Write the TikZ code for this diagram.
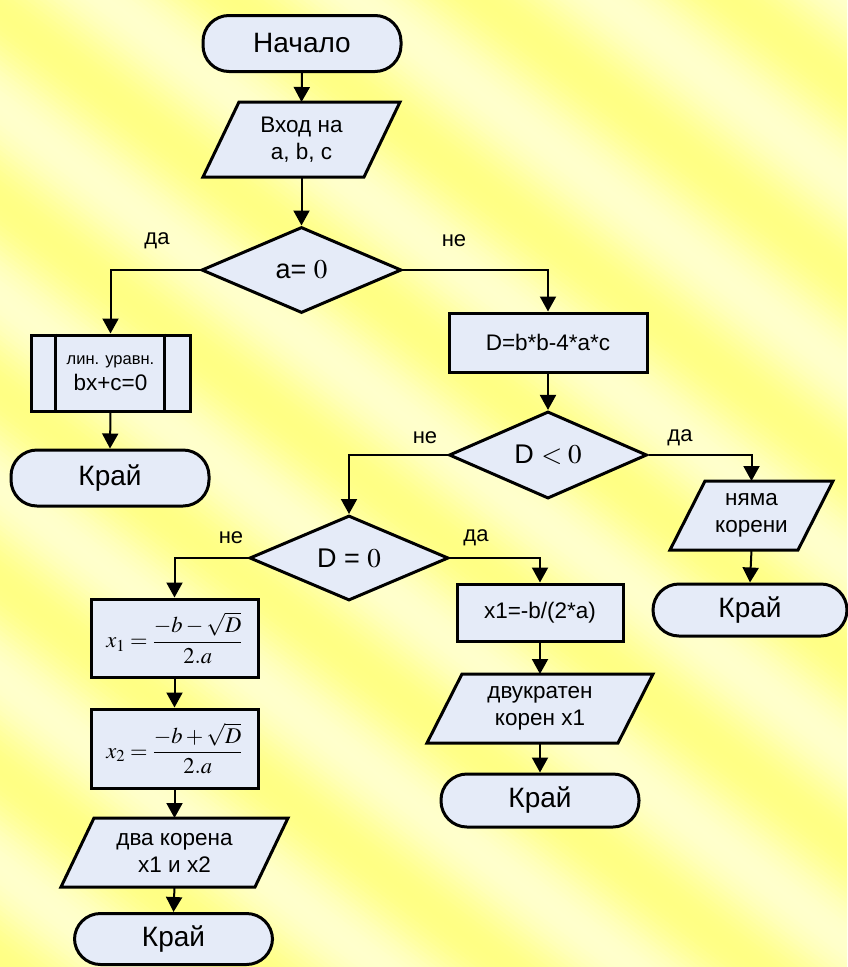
\documentclass[tikz,border=0pt]{standalone}
\usepackage{mathptmx}
\usepackage[no-math]{fontspec}
\setmainfont{Liberation Sans}
\usetikzlibrary{shapes.geometric,arrows.meta}

\definecolor{ylw}{RGB}{255,255,132}
\definecolor{pale}{RGB}{255,255,204}
\definecolor{boxfill}{RGB}{229,235,248}

\pgfdeclarelayer{paper}
\pgfdeclarelayer{background}
\pgfsetlayers{paper,background,main}

\tikzset{
  shp/.style={draw=black, line width=3pt, fill=boxfill, inner sep=0pt,
    align=center, font=\fontsize{22.5}{27}\selectfont},
  terminal/.style={shp, rectangle, rounded corners=26pt,
    font=\fontsize{28}{33}\selectfont},
  proc/.style={shp, rectangle},
  decision/.style={shp, diamond, font=\fontsize{27}{32}\selectfont},
  iotext/.style={rectangle, inner sep=0pt, outer sep=1.5pt, align=center,
    font=\fontsize{22.5}{27}\selectfont},
  iobox/.style={draw=black, line width=3pt, fill=boxfill, line join=miter},
  flow/.style={line width=2pt, -{Triangle[length=15pt,width=16pt]}},
  lbl/.style={font=\fontsize{22}{26}\selectfont},
}

% input/output parallelogram drawn behind the text of node #1, slant #2
\newcommand\ioshape[2]{%
  \begin{pgfonlayer}{background}
    \draw[iobox] ([xshift=#2]#1.north west) -- (#1.north east)
      -- ([xshift=-#2]#1.south east) -- (#1.south west) -- cycle;
  \end{pgfonlayer}}

\begin{document}
\begin{tikzpicture}[x=1pt, y=-1pt]
\useasboundingbox (0,0) rectangle (847,967);

% striped yellow paper
\begin{pgfonlayer}{paper}
  \begin{scope}
    \clip (0,0) rectangle (847,967);
    \fill[pale] (0,0) rectangle (847,967);
    \foreach \u in {-665,-660,...,985} {
      \pgfmathsetmacro\t{mod(\u+1890,190)/190}
      \pgfmathsetmacro\p{50+50*cos(360*\t)}
      \fill[ylw!\p!pale] (-10,{\u-7.6}) -- (860,{\u+653.6})
        -- (860,{\u+659.2}) -- (-10,{\u-2}) -- cycle;
    }
  \end{scope}
\end{pgfonlayer}

% main column
\node[terminal, minimum width=198pt, minimum height=56pt] (start) at (302,43.5) {Начало};
\node[iotext, minimum width=194pt, minimum height=72pt] (in) at (301.5,139.5) {Вход на\\a, b, c};
\ioshape{in}{36pt}
\node[decision, minimum width=200pt, minimum height=86pt] (d1) at (301.5,270) {a= $0$};

% a = 0 branch
\node[proc, minimum width=159pt, minimum height=76pt] (sub) at (110.5,373)
  {{\fontsize{16.5}{21}\selectfont лин. уравн.}\\[-1pt]bx+c=0};
\draw[line width=3pt] ([xshift=26pt]sub.north west) -- ([xshift=26pt]sub.south west);
\draw[line width=3pt] ([xshift=-27pt]sub.north east) -- ([xshift=-27pt]sub.south east);
\node[terminal, minimum width=198pt, minimum height=56pt] (end1) at (110,478) {Край};

% discriminant
\node[proc, minimum width=198pt, minimum height=59pt] (calc) at (548,342.5) {D=b*b-4*a*c};
\node[decision, minimum width=198pt, minimum height=85pt] (d2) at (548,455) {D $<0$};

% D < 0
\node[iotext, minimum width=160pt, minimum height=66pt] (none) at (751.5,515.5) {няма\\корени};
\ioshape{none}{35pt}
\node[terminal, minimum width=194pt, minimum height=52pt] (end2) at (750,610) {Край};

% D = 0 test
\node[decision, minimum width=199pt, minimum height=85pt] (d3) at (349,558) {D = $0$};

% two roots
\node[proc, minimum width=167pt, minimum height=78pt] (x1box) at (174.5,638)
  {$\displaystyle x_1=\frac{-b-\sqrt{D}}{2.a}$};
\node[proc, minimum width=167pt, minimum height=79pt] (x2box) at (174.5,748.5)
  {$\displaystyle x_2=\frac{-b+\sqrt{D}}{2.a}$};
\node[iotext, minimum width=224pt, minimum height=66pt] (two) at (174.5,852.5) {два корена\\x1 и x2};
\ioshape{two}{33pt}
\node[terminal, minimum width=198pt, minimum height=51pt] (end4) at (173.5,939) {Край};

% double root
\node[proc, minimum width=166pt, minimum height=57pt] (x1d) at (540,612.5) {x1=-b/(2*a)};
\node[iotext, minimum width=223pt, minimum height=66pt] (dbl) at (540,708.5) {двукратен\\корен x1};
\ioshape{dbl}{35pt}
\node[terminal, minimum width=198pt, minimum height=53pt] (end3) at (540,800.5) {Край};

% branch labels
\node[lbl] (l1y) at (157,241) {да};
\node[lbl] (l1n) at (454,241) {не};
\node[lbl] (l2n) at (425,438) {не};
\node[lbl] (l2y) at (680,438) {да};
\node[lbl] (l3n) at (231,538) {не};
\node[lbl] (l3y) at (476,538) {да};

% connectors
\draw[flow] (start.south) -- (in.north);
\draw[flow] (in.south) -- (d1.north);
\draw[flow] (d1.west) -| (sub.north);
\draw[flow] (sub.south) -- (end1.north);
\draw[flow] (d1.east) -| (calc.north);
\draw[flow] (calc.south) -- (d2.north);
\draw[flow] (d2.east) -| (none.north);
\draw[flow] (none.south) -- (end2.north);
\draw[flow] (d2.west) -| (d3.north);
\draw[flow] (d3.west) -| (x1box.north);
\draw[flow] (x1box.south) -- (x2box.north);
\draw[flow] (x2box.south) -- (two.north);
\draw[flow] (two.south) -- (end4.north);
\draw[flow] (d3.east) -| (x1d.north);
\draw[flow] (x1d.south) -- (dbl.north);
\draw[flow] (dbl.south) -- (end3.north);
\end{tikzpicture}
\end{document}
